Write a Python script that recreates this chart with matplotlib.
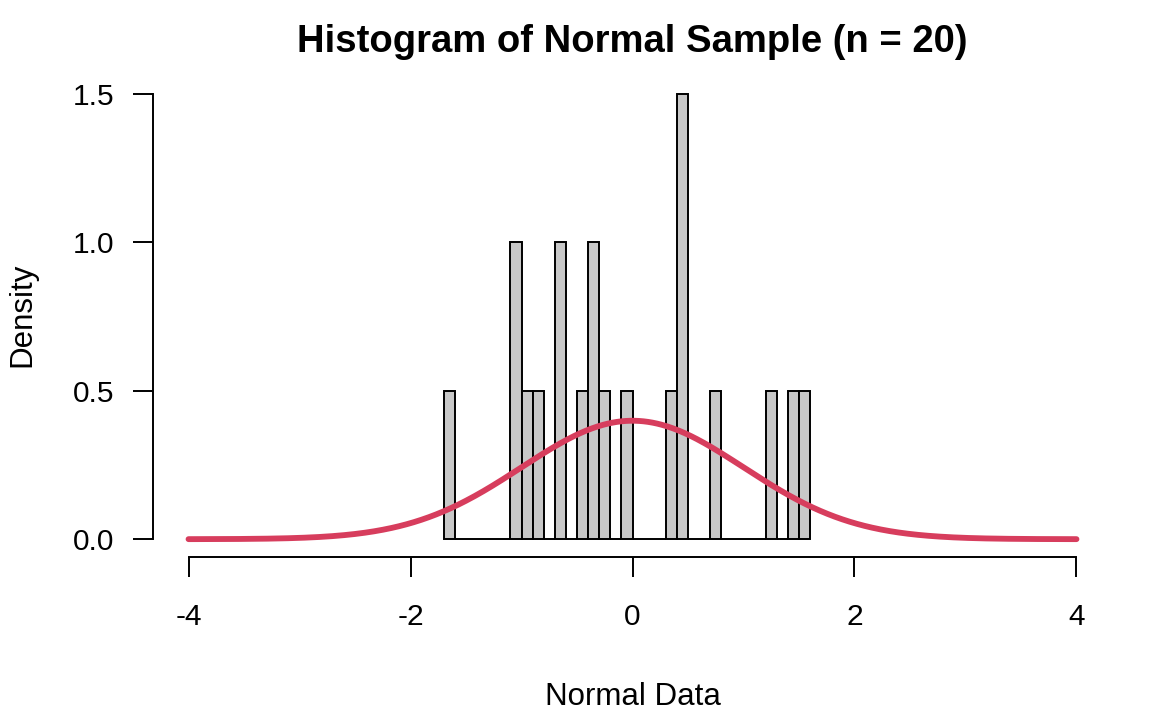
import numpy as np
import matplotlib
matplotlib.use('Agg')
import matplotlib.pyplot as plt

# histogram of a normal sample, bins of 0.1 from -1.7 to 1.6
n_obs = 20
bin_width = 0.1
bin_start = -1.7
bin_counts = [1, 0, 0, 0, 0, 0, 2, 1, 1, 0, 2, 0, 1, 2, 1, 0, 1,
              0, 0, 0, 1, 3, 0, 0, 1, 0, 0, 0, 0, 1, 0, 1, 1]
x_ticks = [-4, -2, 0, 2, 4]
y_ticks = [0.0, 0.5, 1.0, 1.5]

plt.rcParams['font.family'] = ['Liberation Sans', 'DejaVu Sans']

W, H = 1152, 711
fig = plt.figure(figsize=(W / 100, H / 100), dpi=100)
ax = fig.add_axes([153 / W, 1 - 557 / H, (1112 - 153) / W, (557 - 76) / H])

counts = np.array(bin_counts)
lefts = bin_start + bin_width * np.arange(len(counts))
density = counts / (n_obs * bin_width)
ax.bar(lefts, density, width=bin_width, align='edge', color='#C8C8C8',
       edgecolor='black', linewidth=1.4, zorder=2)

xs = np.linspace(-4, 4, 600)
ax.plot(xs, np.exp(-xs ** 2 / 2) / np.sqrt(2 * np.pi), color='#D73D5D',
        linewidth=4.2, solid_capstyle='round', zorder=3)

ax.set_xlim(-4.32, 4.32)
ax.set_ylim(-0.06, 1.56)
for s in ['top', 'right']:
    ax.spines[s].set_visible(False)
ax.spines['left'].set_bounds(0, 1.5)
ax.spines['bottom'].set_bounds(-4, 4)
for s in ['left', 'bottom']:
    ax.spines[s].set_linewidth(1.4)

ax.set_xticks(x_ticks)
ax.set_xticklabels([str(t) for t in x_ticks])
ax.set_yticks(y_ticks)
ax.set_yticklabels(['%.1f' % t for t in y_ticks])
ax.tick_params(axis='both', length=14.4, width=1.4, labelsize=21.5)
ax.tick_params(axis='x', pad=19)
ax.tick_params(axis='y', pad=13.5)

fig.text(632.5 / W, 1 - 52 / H, 'Histogram of Normal Sample (n = 20)',
         ha='center', va='baseline', fontsize=27.5, fontweight='bold')
fig.text(632.5 / W, 1 - 705 / H, 'Normal Data', ha='center',
         va='baseline', fontsize=22.5)
fig.text(22 / W, 1 - 315 / H, 'Density', ha='center', va='center',
         rotation=90, fontsize=22.5)

fig.savefig('out.png', dpi=100)
